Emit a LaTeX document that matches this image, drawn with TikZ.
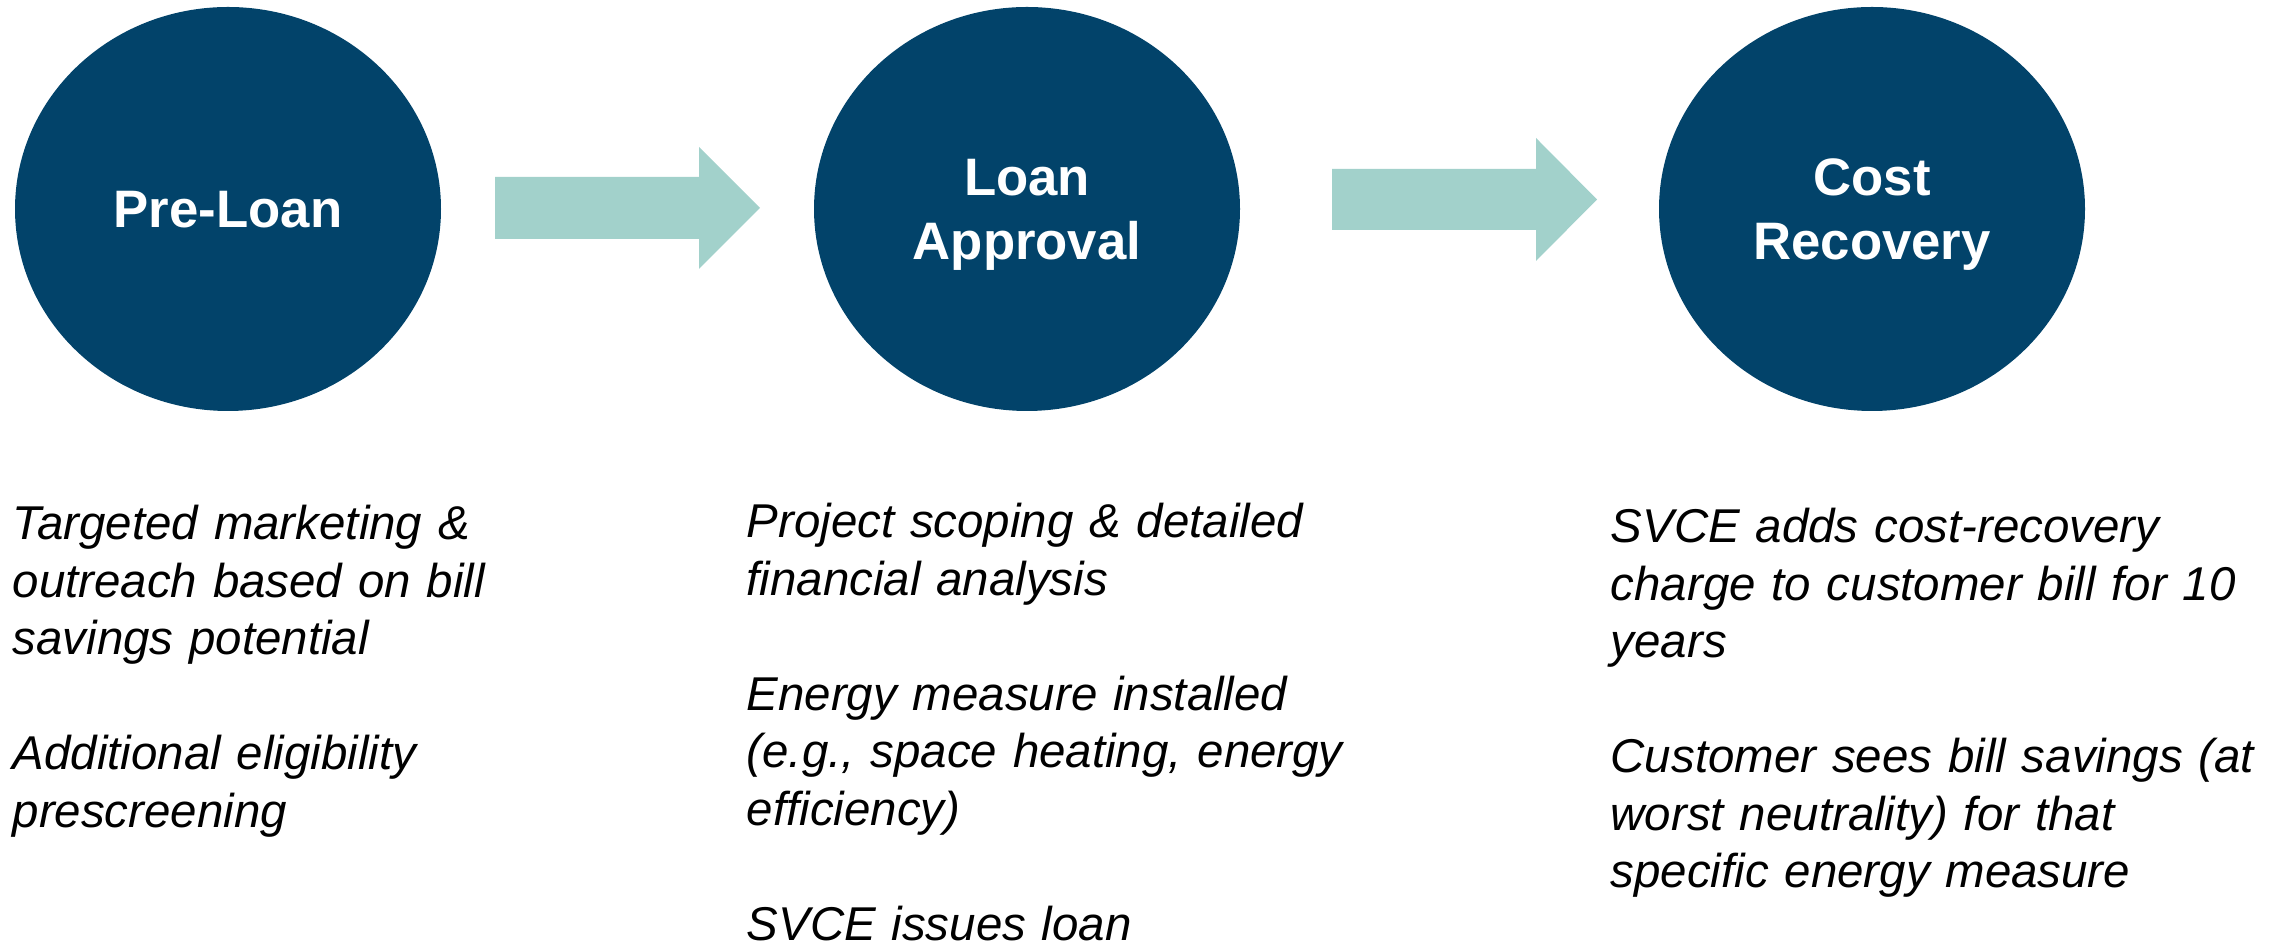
\documentclass[tikz,border=0pt]{standalone}
\usepackage{fontspec}
\setmainfont{Liberation Sans}
\usetikzlibrary{shapes.geometric}
\definecolor{stageblue}{RGB}{2, 67, 106}
\definecolor{arrowteal}{RGB}{162, 209, 203}

\begin{document}
\begin{tikzpicture}[
		stage/.style={ellipse, fill=stageblue, text=white, inner sep=0pt,
			minimum width=4.26cm, minimum height=4.04cm, align=center, text depth=0pt,
			font=\fontsize{15}{18.2}\selectfont\bfseries},
		stagearrow/.style={fill=arrowteal},
		notes/.style={anchor=base west, inner sep=0pt, text width=7cm, align=left,
			font=\fontsize{13.5}{16.36}\selectfont\itshape}
	]
		\useasboundingbox (0,0) rectangle (22.77,9.47);

		\node[stage] (preloan) at (2.28,7.38) {Pre-Loan};
		\node[stage] (approval) at (10.27,7.38) {Loan\\Approval};
		\node[stage] (recovery) at (18.72,7.38) {Cost\\Recovery};

		\fill[stagearrow] (4.95,7.08) -- (6.99,7.08) -- (6.99,6.78) -- (7.60,7.39)
			-- (6.99,8.00) -- (6.99,7.70) -- (4.95,7.70) -- cycle;
		\fill[stagearrow] (13.32,7.17) -- (15.36,7.17) -- (15.36,6.86) -- (15.97,7.475)
			-- (15.36,8.09) -- (15.36,7.78) -- (13.32,7.78) -- cycle;

		\node[notes] (prenotes) at (0.12,4.07) {Targeted marketing \&\\outreach based on bill\\savings potential\\[\baselineskip]Additional eligibility\\prescreening};
		\node[notes] (approvalnotes) at (7.46,4.09) {Project scoping \& detailed\\financial analysis\\[\baselineskip]Energy measure installed\\(e.g., space heating, energy\\efficiency)\\[\baselineskip]SVCE issues loan};
		\node[notes] (recoverynotes) at (16.10,4.04) {SVCE adds cost-recovery\\charge to customer bill for 10\\years\\[\baselineskip]Customer sees bill savings (at\\worst neutrality) for that\\specific energy measure};
	\end{tikzpicture}
\end{document}
